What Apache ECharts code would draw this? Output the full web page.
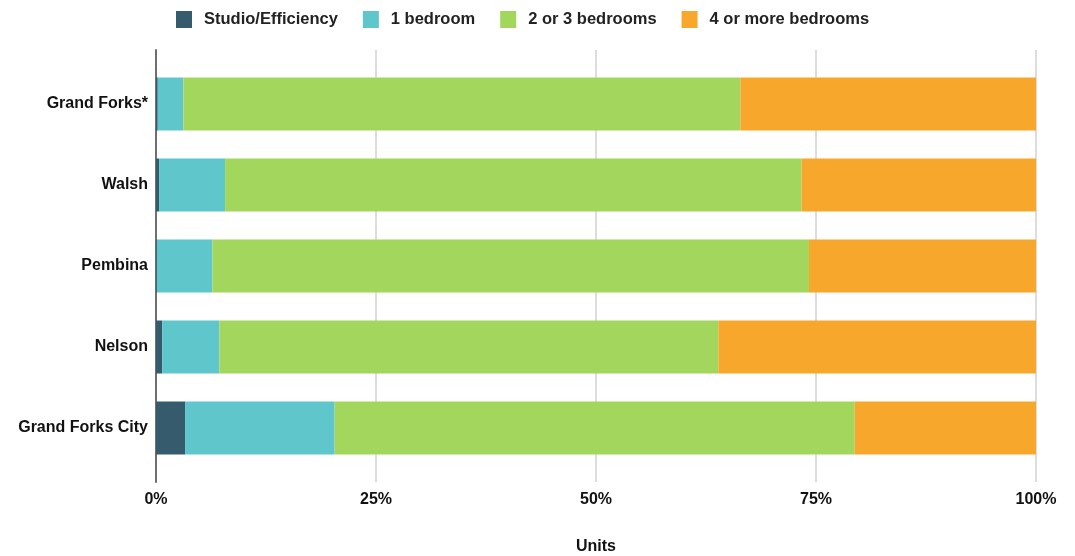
<!DOCTYPE html>
<html>
<head>
<meta charset="utf-8">
<script src="https://cdn.jsdelivr.net/npm/echarts@6/dist/echarts.min.js"></script>
<style>
  html, body { margin: 0; padding: 0; background: #ffffff; }
  #chart { width: 1075px; height: 556px; }
</style>
</head>
<body>
<div id="chart"></div>
<script>
// Unit mix by bedroom count, share of units (%)
const areas = ['Grand Forks*', 'Walsh', 'Pembina', 'Nelson', 'Grand Forks City'];
const studio = [0.2, 0.35, 0.1, 0.7, 3.3];
const oneBedroom = [2.9, 7.5, 6.3, 6.5, 17.0];
const twoThreeBedrooms = [63.3, 65.5, 67.8, 56.7, 59.1];
const fourPlusBedrooms = [33.6, 26.65, 25.8, 36.1, 20.6];
const xTicks = [0, 25, 50, 75, 100];

const seriesNames = ['Studio/Efficiency', '1 bedroom', '2 or 3 bedrooms', '4 or more bedrooms'];
const seriesData = [studio, oneBedroom, twoThreeBedrooms, fourPlusBedrooms];
const colors = ['#365b6d', '#5fc7cb', '#a3d65c', '#f8a72d'];

const font = 'Liberation Sans, Arial, sans-serif';
const chart = echarts.init(document.getElementById('chart'));

chart.setOption({
  animation: false,
  color: colors,
  legend: {
    top: 6,
    left: 171,
    itemWidth: 16,
    itemHeight: 17,
    itemGap: 25,
    icon: 'rect',
    textStyle: { fontFamily: font, fontWeight: 'bold', fontSize: 16.5, color: '#222', padding: [0, 0, 0, 7] },
    data: seriesNames
  },
  grid: [
    // frame: gridlines and left axis line
    { left: 156, right: 39, top: 50, height: 432, outerBoundsMode: 'none' },
    // bars
    { left: 156, right: 39, top: 63.5, height: 405, outerBoundsMode: 'none' }
  ],
  xAxis: [
    {
      gridIndex: 0, type: 'value', min: xTicks[0], max: xTicks[xTicks.length - 1], interval: 25,
      axisLine: { show: false },
      axisTick: { show: false },
      splitLine: { show: true, lineStyle: { color: '#d2d2d2', width: 1.5 } },
      axisLabel: {
        margin: 10, formatter: '{value}%',
        fontFamily: font, fontWeight: 'bold', fontSize: 16, color: '#111'
      },
      name: 'Units', nameLocation: 'middle', nameGap: 57,
      nameTextStyle: { fontFamily: font, fontWeight: 'bold', fontSize: 16, color: '#111' }
    },
    {
      gridIndex: 1, type: 'value', min: 0, max: 100, show: false
    }
  ],
  yAxis: [
    {
      gridIndex: 0, type: 'category', data: areas,
      axisLine: { show: true, lineStyle: { color: '#6f6f6f', width: 2 } },
      axisTick: { show: false },
      axisLabel: { show: false },
      splitLine: { show: false }
    },
    {
      gridIndex: 1, type: 'category', data: areas, inverse: true,
      axisLine: { show: false },
      axisTick: { show: false },
      axisLabel: { margin: 8, fontFamily: font, fontWeight: 'bold', fontSize: 16, color: '#111' }
    }
  ],
  series: seriesNames.map((name, i) => ({
    name: name,
    type: 'bar',
    stack: 'share',
    xAxisIndex: 1,
    yAxisIndex: 1,
    barWidth: 53,
    data: seriesData[i]
  }))
});
</script>
</body>
</html>
